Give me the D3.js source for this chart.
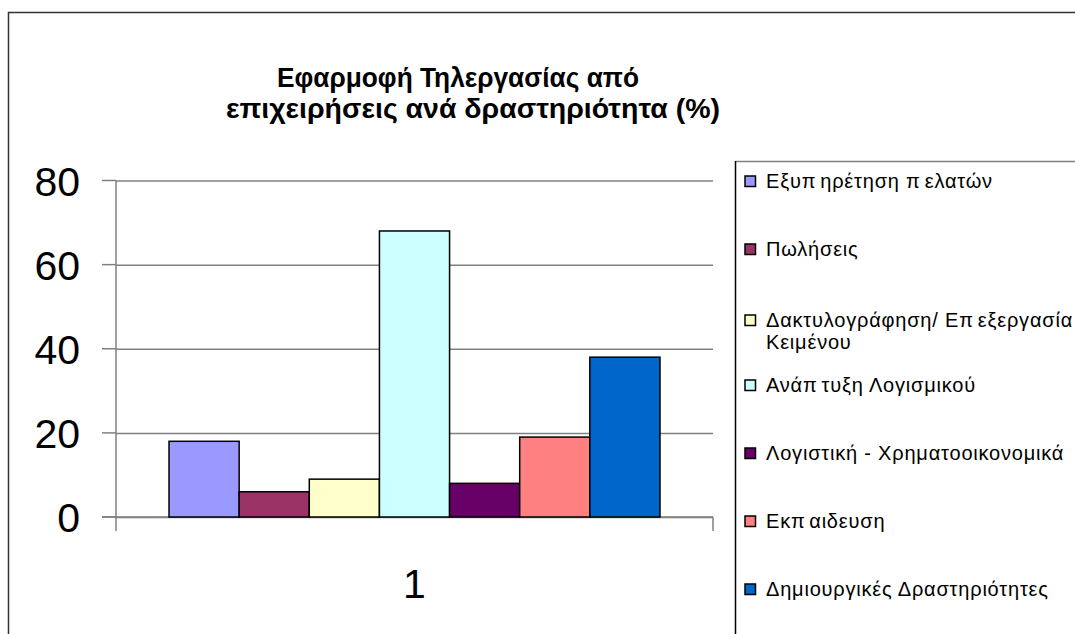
<!DOCTYPE html>
<html><head><meta charset="utf-8">
<script src="https://cdn.jsdelivr.net/npm/d3@7"></script>
<style>body{margin:0;background:#fff}svg{display:block}</style>
</head><body><svg id="c" width="1075" height="634"></svg>
<script>
const titleLines = ["Εφαρμοφή Τηλεργασίας από", "επιχειρήσεις ανά δραστηριότητα (%)"];
const categories = ["1"];
const seriesNames = ["Εξυπηρέτηση πελατών", "Πωλήσεις", "Δακτυλογράφηση/ Επεξεργασία Κειμένου", "Ανάπτυξη Λογισμικού", "Λογιστική - Χρηματοοικονομικά", "Εκπαιδευση", "Δημιουργικές Δραστηριότητες"];
const legendLines = [["Εξυπηρέτηση πελατών"], ["Πωλήσεις"], ["Δακτυλογράφηση/ Επεξεργασία", "Κειμένου"], ["Ανάπτυξη Λογισμικού"], ["Λογιστική - Χρηματοοικονομικά"], ["Εκπαιδευση"], ["Δημιουργικές Δραστηριότητες"]];
const values = [18, 6, 9, 68, 8, 19, 38];
const colors = ["#9999FF", "#993366", "#FFFFCC", "#CCFFFF", "#660066", "#FF8080", "#0066CC"];
const yTicks = [0, 20, 40, 60, 80];

const svg = d3.select("#c");
const font = "'Liberation Sans', Arial, sans-serif";

// outer border (extends past right/bottom edges)
svg.append("rect").attr("x", 8.5).attr("y", 12.5).attr("width", 1200).attr("height", 800)
  .attr("fill", "none").attr("stroke", "#333").attr("stroke-width", 1.5);

// title
const titleX = [277, 226], titleLen = [362, 494], titleY = [87, 118];
svg.selectAll("text.title").data(titleLines).join("text").attr("class", "title")
  .attr("x", (d, i) => titleX[i]).attr("y", (d, i) => titleY[i])
  .attr("textLength", (d, i) => titleLen[i]).attr("lengthAdjust", "spacingAndGlyphs")
  .attr("font-family", font).attr("font-weight", "bold").attr("font-size", 28)
  .attr("fill", "#000").text(d => d);

// scales
const plotL = 116, plotR = 713, plotB = 517, plotT = 180.5;
const y = d3.scaleLinear().domain([0, 80]).range([plotB, plotT]);
const x0 = d3.scaleBand().domain(categories).range([plotL, plotR]).paddingInner(0).paddingOuter(0.108);
const x1 = d3.scaleBand().domain(seriesNames).range([0, x0.bandwidth()]).padding(0);

// gridlines + y axis
const yAxis = d3.axisLeft(y).tickValues(yTicks).tickSize(-(plotR - plotL)).tickPadding(36).tickFormat(d3.format("d"));
const gy = svg.append("g").attr("transform", `translate(${plotL},0)`).call(yAxis);
gy.select(".domain").remove();
gy.selectAll(".tick line").attr("stroke", "#808080").attr("stroke-width", 1.5);
gy.selectAll(".tick text").attr("font-family", font).attr("font-size", 41).attr("fill", "#000").attr("dy", "0.36em");
// left tick stubs
svg.append("g").selectAll("line").data(yTicks).join("line")
  .attr("x1", plotL - 14).attr("x2", plotL).attr("y1", d => y(d)).attr("y2", d => y(d))
  .attr("stroke", "#808080").attr("stroke-width", 1.5);
// y axis line
svg.append("line").attr("x1", plotL).attr("x2", plotL).attr("y1", plotT).attr("y2", plotB + 14)
  .attr("stroke", "#808080").attr("stroke-width", 1.5);

// x axis
const xAxis = d3.axisBottom(x0).tickSize(0).tickPadding(52);
const gx = svg.append("g").attr("transform", `translate(0,${plotB})`).call(xAxis);
gx.select(".domain").remove();
gx.selectAll(".tick text").attr("font-family", font).attr("font-size", 41).attr("fill", "#000");
svg.append("line").attr("x1", plotL - 14).attr("x2", plotR).attr("y1", plotB).attr("y2", plotB)
  .attr("stroke", "#808080").attr("stroke-width", 1.5);
svg.append("line").attr("x1", plotR).attr("x2", plotR).attr("y1", plotB).attr("y2", plotB + 14)
  .attr("stroke", "#808080").attr("stroke-width", 1.5);

// bars
const g = svg.append("g").attr("transform", `translate(${x0(categories[0])},0)`);
g.selectAll("rect").data(values).join("rect")
  .attr("x", (d, i) => x1(seriesNames[i])).attr("width", x1.bandwidth())
  .attr("y", d => y(d)).attr("height", d => y(0) - y(d))
  .attr("fill", (d, i) => colors[i]).attr("stroke", "#000").attr("stroke-width", 1.5);

// legend box
svg.append("line").attr("x1", 735.5).attr("x2", 1100).attr("y1", 161.5).attr("y2", 161.5).attr("stroke", "#808080").attr("stroke-width", 1.5);
svg.append("line").attr("x1", 735.5).attr("x2", 735.5).attr("y1", 161).attr("y2", 700).attr("stroke", "#000").attr("stroke-width", 1.5);

const ly = d3.scalePoint().domain(seriesNames).range([181, 589]);
const lg = svg.append("g").selectAll("g").data(seriesNames).join("g")
  .attr("transform", (d, i) => `translate(0,${ly(d) + (legendLines[i].length > 1 ? 3 : 0)})`);
lg.append("rect").attr("x", 745).attr("y", -5).attr("width", 10.5).attr("height", 10.5)
  .attr("fill", (d, i) => colors[i]).attr("stroke", "#000").attr("stroke-width", 1.5);
lg.each(function (d, i) {
  const grp = d3.select(this);
  legendLines[i].forEach((line, j) => {
    const t = grp.append("text").attr("x", 766).attr("y", j * 22).attr("dy", "0.35em")
      .attr("font-family", font).attr("font-size", 20).attr("letter-spacing", 0.8).attr("fill", "#000");
    const parts = line.split("π");
    parts.forEach((p, k) => {
      const s = t.append("tspan").text(p + (k < parts.length - 1 ? "π" : ""));
      if (k > 0) s.attr("dx", 4);
    });
  });
});
</script>
</body></html>
